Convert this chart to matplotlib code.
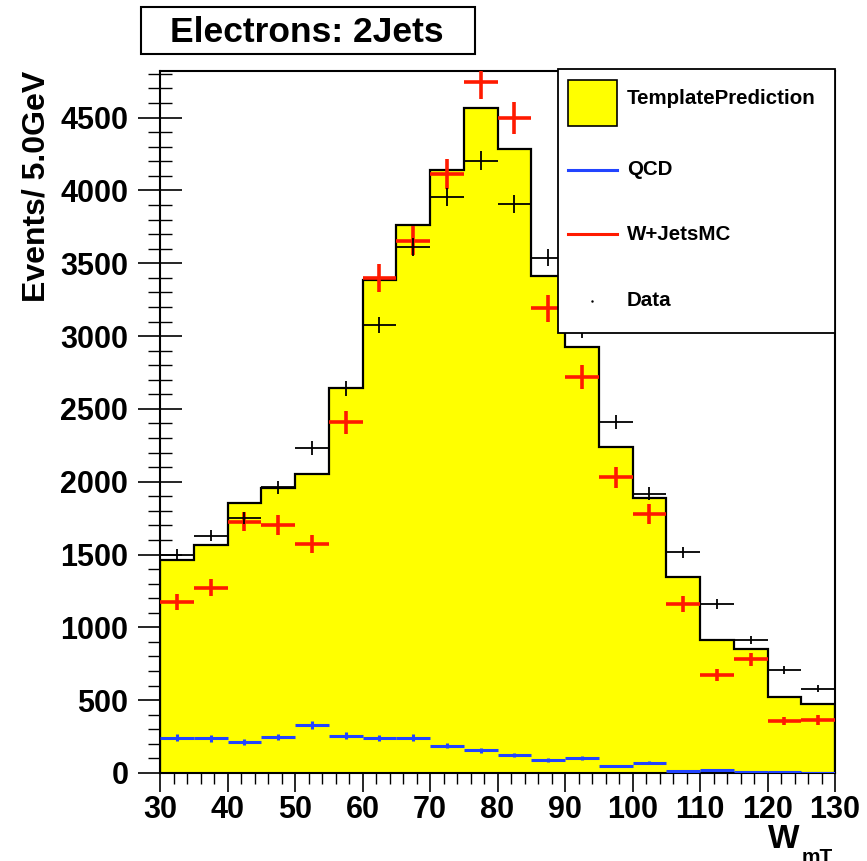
import matplotlib
matplotlib.use("Agg")
import matplotlib.pyplot as plt
from matplotlib.patches import Rectangle
from matplotlib.lines import Line2D
from matplotlib.ticker import MultipleLocator
import numpy as np

plt.rcParams.update({
    'font.family': ['Liberation Sans', 'DejaVu Sans'],
    'font.weight': 'bold',
})

# ── DATA ───────────────────────────────────────────────────────────
edges = np.arange(30, 131, 5)            # W mT bins, 5 GeV wide
centers = edges[:-1] + 2.5

template = [1463, 1566, 1853, 1959, 2050, 2643, 3387, 3764, 4142, 4569,
            4282, 3410, 2926, 2241, 1889, 1345, 914, 852, 524, 474]

data = [1498, 1630, 1749, 1962, 2230, 2642, 3078, 3611, 3957, 4204,
        3906, 3537, 3040, 2412, 1917, 1516, 1161, 914, 708, 577]
data_err = [39, 40, 42, 44, 47, 51, 55, 60, 63, 65,
            62, 59, 55, 49, 44, 39, 34, 30, 27, 24]

wjets = [1177, 1273, 1726, 1704, 1573, 2409, 3400, 3656, 4111, 4742,
         4497, 3191, 2718, 2030, 1777, 1161, 673, 781, 357, 364]
wjets_err = [55, 58, 67, 67, 64, 79, 94, 97, 103, 111,
             108, 91, 84, 73, 68, 55, 42, 45, 30, 31]

qcd = [243, 238, 215, 247, 330, 256, 240, 243, 188, 155,
       124, 89, 101, 48, 71, 14, 21, 9, 9, 3]
qcd_err = [22, 22, 21, 22, 26, 23, 22, 22, 19, 18,
           16, 13, 14, 10, 12, 5, 6, 4, 4, 2]

YELLOW = '#ffff00'
RED = '#ff1a00'
BLUE = '#2244ff'

W, H = 867, 861


def fx(px):
    return px / W


def fy(py):
    return 1 - py / H


fig = plt.figure(figsize=(W / 100, H / 100), dpi=100)
ax = fig.add_axes([fx(160), fy(773), (835 - 160) / W, (773 - 71) / H])
ax.set_axisbelow(True)

# template prediction: yellow filled histogram with black outline
ax.stairs(template, edges, fill=True, color=YELLOW, zorder=1)
ax.stairs(template, edges, color='black', linewidth=1.6, baseline=0, zorder=2)

ax.errorbar(centers, qcd, xerr=2.5, yerr=qcd_err, fmt='none',
            ecolor=BLUE, elinewidth=2.2, capsize=0, zorder=3)
ax.errorbar(centers, wjets, xerr=2.5, yerr=wjets_err, fmt='none',
            ecolor=RED, elinewidth=2.6, capsize=0, zorder=4)
ax.errorbar(centers, data, xerr=2.5, yerr=data_err, fmt='none',
            ecolor='black', elinewidth=1.3, capsize=0, zorder=5)

ax.set_xlim(30, 130)
ax.set_ylim(0, 4820)
ax.xaxis.set_major_locator(MultipleLocator(10))
ax.xaxis.set_minor_locator(MultipleLocator(2))
ax.yaxis.set_major_locator(MultipleLocator(500))
ax.yaxis.set_minor_locator(MultipleLocator(100))

ax.tick_params(axis='y', which='major', direction='inout', length=31.7,
               width=1.2, pad=7, labelsize=22)
ax.tick_params(axis='y', which='minor', direction='inout', length=17, width=1.0)
ax.tick_params(axis='x', which='major', direction='out', length=13.7,
               width=1.2, pad=2, labelsize=22)
ax.tick_params(axis='x', which='minor', direction='out', length=8, width=1.0)
for lab in ax.get_xticklabels() + ax.get_yticklabels():
    lab.set_fontweight('bold')
for sp in ax.spines.values():
    sp.set_linewidth(1.5)

# axis titles
fig.text(fx(37), fy(71), 'Events/ 5.0GeV', rotation=90, ha='center', va='top',
         fontsize=23, fontweight='bold')
fig.text(fx(768), fy(848), 'W', ha='left', va='baseline',
         fontsize=24, fontweight='bold')
fig.text(fx(802), fy(863), 'mT', ha='left', va='baseline',
         fontsize=15, fontweight='bold')

# title box
fig.patches.append(Rectangle((fx(141), fy(54)), (475 - 141) / W, (54 - 7) / H,
                             transform=fig.transFigure, facecolor='white',
                             edgecolor='black', linewidth=1.5, zorder=5))
fig.text(fx(307), fy(32), 'Electrons: 2Jets', ha='center', va='center',
         fontsize=25.5, fontweight='bold', zorder=6)

# legend box
fig.patches.append(Rectangle((fx(558), fy(333)), (835 - 558) / W, (333 - 69) / H,
                             transform=fig.transFigure, facecolor='white',
                             edgecolor='black', linewidth=1.3, zorder=5))
fig.patches.append(Rectangle((fx(568), fy(126)), (617 - 568) / W, (126 - 80) / H,
                             transform=fig.transFigure, facecolor=YELLOW,
                             edgecolor='black', linewidth=1.2, zorder=6))
fig.lines.append(Line2D([fx(568), fx(617)], [fy(170), fy(170)],
                        transform=fig.transFigure, color=BLUE, linewidth=2.2, zorder=6))
fig.lines.append(Line2D([fx(568), fx(617)], [fy(234), fy(234)],
                        transform=fig.transFigure, color=RED, linewidth=2.2, zorder=6))
fig.lines.append(Line2D([fx(592)], [fy(301)], marker='.', markersize=1.5,
                        transform=fig.transFigure, color='black', zorder=6))
for label, py in [('TemplatePrediction', 99), ('QCD', 170),
                  ('W+JetsMC', 234), ('Data', 301)]:
    fig.text(fx(627), fy(py), label, ha='left', va='center', fontsize=14.8,
             fontweight='bold', zorder=7)

fig.savefig('out.png', dpi=100, facecolor='white')
